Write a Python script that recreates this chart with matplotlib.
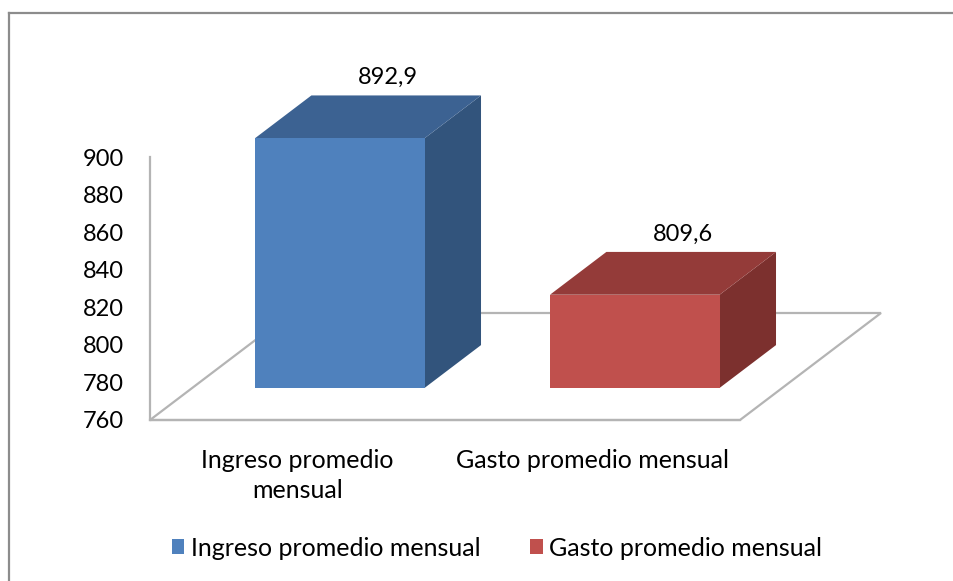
import matplotlib.pyplot as plt
from matplotlib.patches import Polygon, Patch
from matplotlib.lines import Line2D

categories = ["Ingreso promedio\nmensual", "Gasto promedio mensual"]
series_names = ["Ingreso promedio mensual", "Gasto promedio mensual"]
values = [892.9, 809.6]
yticks = [760, 780, 800, 820, 840, 860, 880, 900]

front_colors = ["#4F81BD", "#C0504D"]
top_colors = ["#3C6292", "#943B39"]
side_colors = ["#32547C", "#7C302E"]

plt.rcParams['font.family'] = ['Lato', 'DejaVu Sans']

W, H = 954, 581
fig = plt.figure(figsize=(W / 100, H / 100), dpi=100)
ax = fig.add_axes([0, 0, 1, 1])

# pixel layout of the pseudo-3D plot (front-left corner of the floor)
x0_px, base_px = 150, 420
cat_px = 295
val_px = 263 / 140
ymin = yticks[0]
ax.set_xlim((0 - x0_px) / cat_px - 0.5, (W - x0_px) / cat_px - 0.5)
ax.set_ylim(ymin - (H - base_px) / val_px, ymin + base_px / val_px)

# depth vector of the floor in data units
DX = 141 / cat_px
DY = 107 / val_px
d0, d1 = 0.3, 0.7
bw = 0.575

grey = "#b4b4b4"
floor = Polygon([(-0.5, ymin), (1.5, ymin), (1.5 + DX, ymin + DY), (-0.5 + DX, ymin + DY)],
                closed=True, fill=False, edgecolor=grey, lw=1.6, zorder=1)
ax.add_patch(floor)

for i, v in enumerate(values):
    xl, xr = i - bw / 2, i + bw / 2
    fx, fy = d0 * DX, d0 * DY
    bx, by = d1 * DX, d1 * DY
    front = [(xl + fx, ymin + fy), (xr + fx, ymin + fy), (xr + fx, v + fy), (xl + fx, v + fy)]
    top = [(xl + fx, v + fy), (xr + fx, v + fy), (xr + bx, v + by), (xl + bx, v + by)]
    side = [(xr + fx, ymin + fy), (xr + bx, ymin + by), (xr + bx, v + by), (xr + fx, v + fy)]
    ax.add_patch(Polygon(side, closed=True, facecolor=side_colors[i], edgecolor="none", zorder=3))
    ax.add_patch(Polygon(top, closed=True, facecolor=top_colors[i], edgecolor="none", zorder=3))
    ax.add_patch(Polygon(front, closed=True, facecolor=front_colors[i], edgecolor="none", zorder=4))
    ax.annotate(f"{v:.1f}".replace(".", ","), (i + bx, v + by), xytext=(-6, 8),
                textcoords="offset points", ha="center", va="baseline", fontsize=17)

for s in ["top", "right"]:
    ax.spines[s].set_visible(False)
ax.spines["left"].set_position(("data", -0.5))
ax.spines["left"].set_bounds(yticks[0], yticks[-1])
ax.spines["bottom"].set_position(("data", ymin))
ax.spines["bottom"].set_bounds(-0.5, 1.5)
for s in ["left", "bottom"]:
    ax.spines[s].set_color(grey)
    ax.spines[s].set_linewidth(1.6)
    ax.spines[s].set_zorder(1)

ax.set_yticks(yticks)
ax.set_yticklabels([str(t) for t in yticks])
ax.set_xticks(range(len(categories)))
ax.set_xticklabels(categories, linespacing=1.34)
ax.tick_params(axis="y", length=0, pad=19, labelsize=17)
ax.tick_params(axis="x", length=0, pad=21, labelsize=18)

handles = [Patch(facecolor=c, edgecolor="none") for c in front_colors]
fig.legend(handles, series_names, loc="center", bbox_to_anchor=(497 / W, 1 - 548 / H),
           ncol=2, frameon=False, fontsize=18, handlelength=0.5, handleheight=0.55,
           handletextpad=0.25, columnspacing=2.0)

# chart border (top and left edges only visible)
fig.add_artist(Line2D([9 / W, 1], [1 - 13 / H, 1 - 13 / H], color="#8c8c8c", lw=1.6))
fig.add_artist(Line2D([9 / W, 9 / W], [0, 1 - 13 / H], color="#8c8c8c", lw=1.6))

fig.savefig("out.png", dpi=100)
